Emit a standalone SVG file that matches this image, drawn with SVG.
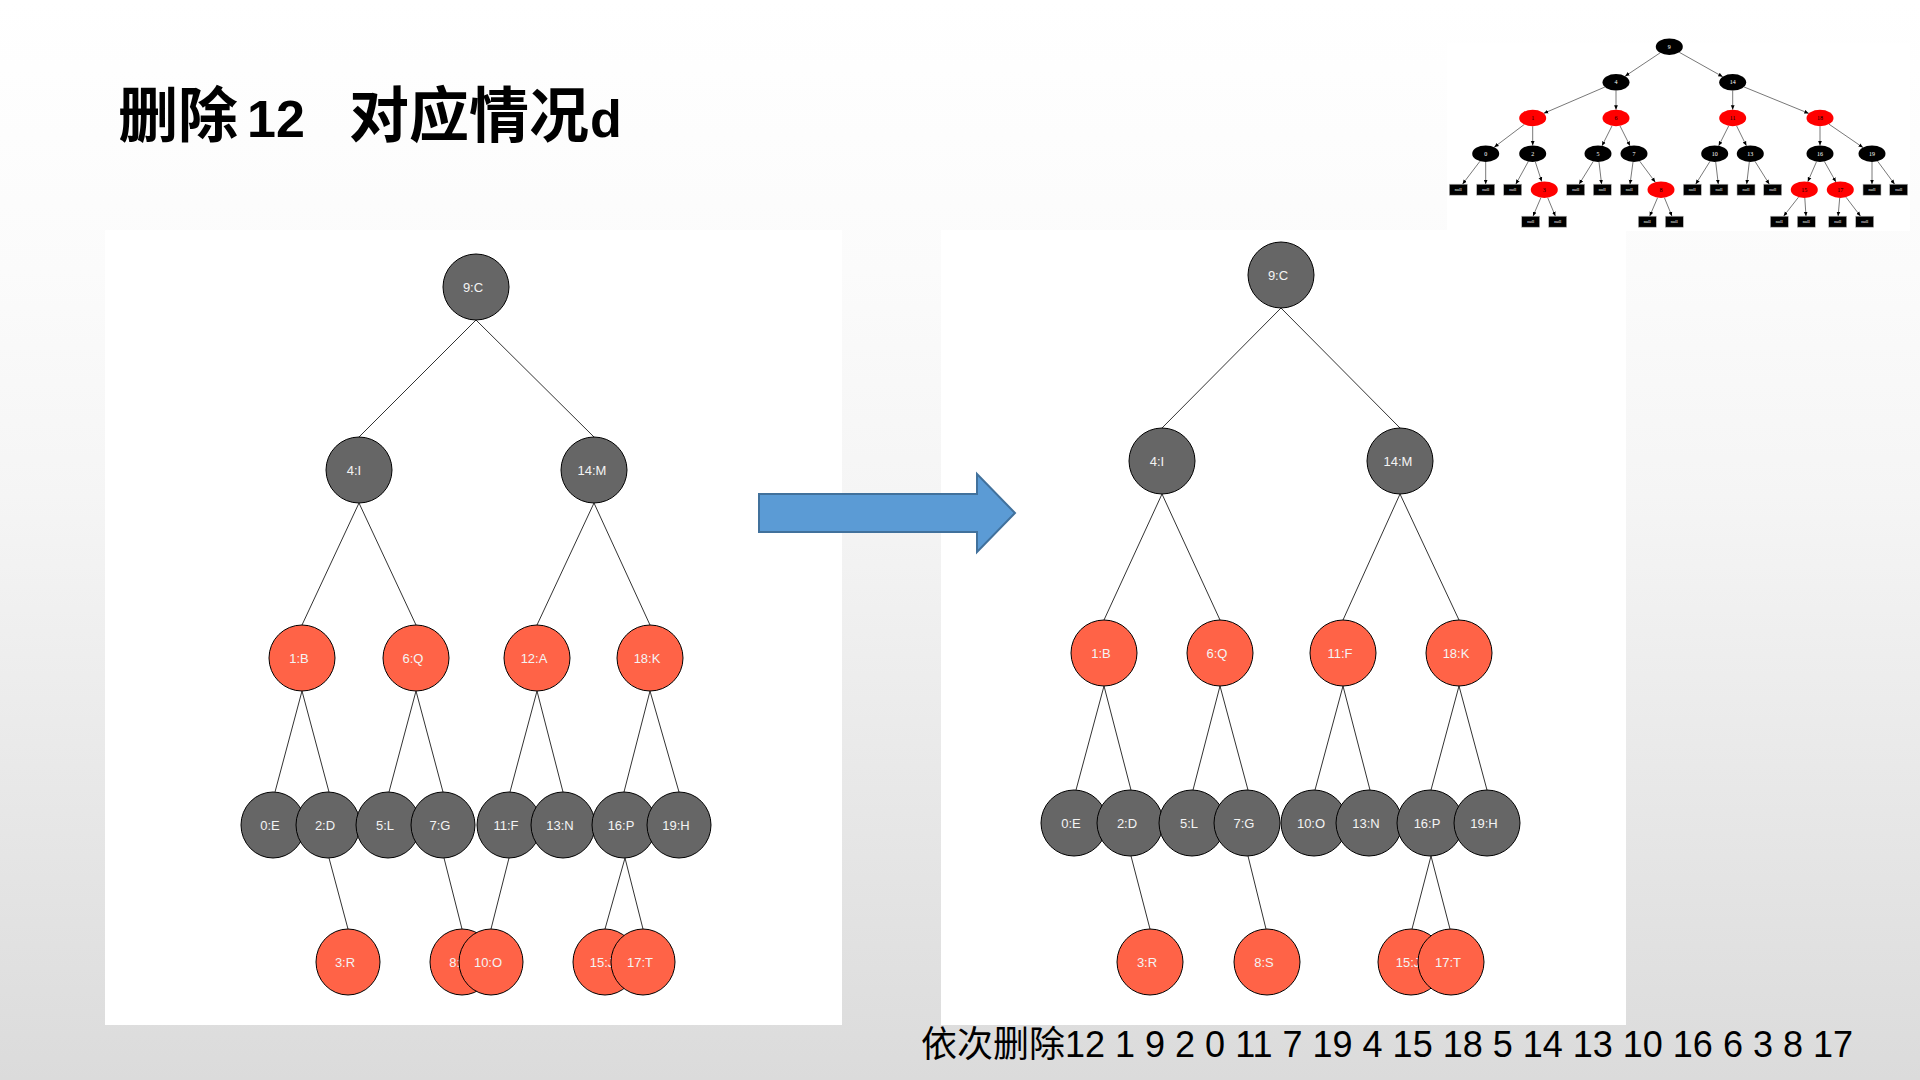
<svg xmlns="http://www.w3.org/2000/svg" width="1920" height="1080" viewBox="0 0 1920 1080">
<defs>
<linearGradient id="bg" x1="0" y1="0" x2="0" y2="1">
<stop offset="0" stop-color="#ffffff"/>
<stop offset="0.25" stop-color="#fbfbfb"/>
<stop offset="0.46" stop-color="#f5f5f5"/>
<stop offset="1" stop-color="#dbdbdb"/>
</linearGradient>
<marker id="ah" markerWidth="5" markerHeight="5" refX="4.5" refY="2.5" orient="auto" markerUnits="userSpaceOnUse">
<path d="M0,0.6 L4.5,2.5 L0,4.4 Z" fill="#000"/>
</marker>
<style>
.bgt{font-family:"Liberation Sans","Noto Sans CJK SC",sans-serif}
.ttl{font-family:"Noto Sans CJK SC","Liberation Sans",sans-serif;font-weight:bold;font-size:60px;fill:#000}
.lat{font-family:"Liberation Sans",sans-serif;font-weight:bold;font-size:52px}
.e{stroke:#333;stroke-width:1;fill:none}
.g{fill:#666666;stroke:#000;stroke-width:1}
.r{fill:#FF6347;stroke:#000;stroke-width:1}
.t{font-family:"Liberation Sans",Arial,sans-serif;font-size:13px;fill:#f4f4f4;text-anchor:middle}
.te{stroke:#555;stroke-width:0.8;fill:none;marker-end:url(#ah)}
.tb{fill:#000}
.tr{fill:#ff0000}
.tn{fill:#000;stroke:#bbb;stroke-width:0.6}
.tw{font-family:"Liberation Serif",serif;font-size:6px;fill:#fff;text-anchor:middle}
.tk{font-family:"Liberation Serif",serif;font-size:6px;fill:#000;text-anchor:middle}
.tnl{font-family:"Liberation Serif",serif;font-size:4.5px;fill:#fff;text-anchor:middle}
</style>
</defs>
<rect x="0" y="0" width="1920" height="1080" fill="url(#bg)"/>

<text class="ttl" y="137" xml:space="preserve"><tspan x="118">删除</tspan><tspan class="lat" x="247">12  </tspan><tspan x="349">对应情况</tspan><tspan class="lat" x="590">d</tspan></text>

<rect id="left-panel" x="105" y="230" width="737" height="795" fill="#fff"/>
<rect id="right-panel" x="941" y="230" width="685" height="795" fill="#fff"/>

<!-- Left tree -->
<g id="left-edges">
<line class="e" x1="476" y1="320" x2="359" y2="437"/>
<line class="e" x1="476" y1="320" x2="594" y2="437"/>
<line class="e" x1="359" y1="503" x2="302" y2="625"/>
<line class="e" x1="359" y1="503" x2="416" y2="625"/>
<line class="e" x1="594" y1="503" x2="537" y2="625"/>
<line class="e" x1="594" y1="503" x2="650" y2="625"/>
<line class="e" x1="302" y1="691" x2="275" y2="792"/>
<line class="e" x1="302" y1="691" x2="329" y2="792"/>
<line class="e" x1="416" y1="691" x2="389" y2="792"/>
<line class="e" x1="416" y1="691" x2="443" y2="792"/>
<line class="e" x1="537" y1="691" x2="510" y2="792"/>
<line class="e" x1="537" y1="691" x2="563" y2="792"/>
<line class="e" x1="650" y1="691" x2="624" y2="792"/>
<line class="e" x1="650" y1="691" x2="679" y2="792"/>
<line class="e" x1="329" y1="858" x2="348" y2="929"/>
<line class="e" x1="444" y1="858" x2="462" y2="929"/>
<line class="e" x1="509" y1="858" x2="491" y2="929"/>
<line class="e" x1="625" y1="858" x2="605" y2="929"/>
<line class="e" x1="625" y1="858" x2="643" y2="929"/>
</g>
<g id="left-nodes">
<g id="L-9C"><ellipse class="g" cx="476" cy="287" rx="33" ry="33"/><text class="t" x="473" y="292">9:C</text></g>
<g id="L-4I"><ellipse class="g" cx="359" cy="470" rx="33" ry="33"/><text class="t" x="354" y="475">4:I</text></g>
<g id="L-14M"><ellipse class="g" cx="594" cy="470" rx="33" ry="33"/><text class="t" x="592" y="475">14:M</text></g>
<g id="L-1B"><ellipse class="r" cx="302" cy="658" rx="33" ry="33"/><text class="t" x="299" y="663">1:B</text></g>
<g id="L-6Q"><ellipse class="r" cx="416" cy="658" rx="33" ry="33"/><text class="t" x="413" y="663">6:Q</text></g>
<g id="L-12A"><ellipse class="r" cx="537" cy="658" rx="33" ry="33"/><text class="t" x="534" y="663">12:A</text></g>
<g id="L-18K"><ellipse class="r" cx="650" cy="658" rx="33" ry="33"/><text class="t" x="647" y="663">18:K</text></g>
<g id="L-0E"><ellipse class="g" cx="273" cy="825" rx="32" ry="33"/><text class="t" x="270" y="830">0:E</text></g>
<g id="L-2D"><ellipse class="g" cx="328" cy="825" rx="32" ry="33"/><text class="t" x="325" y="830">2:D</text></g>
<g id="L-5L"><ellipse class="g" cx="388" cy="825" rx="32" ry="33"/><text class="t" x="385" y="830">5:L</text></g>
<g id="L-7G"><ellipse class="g" cx="443" cy="825" rx="32" ry="33"/><text class="t" x="440" y="830">7:G</text></g>
<g id="L-11F"><ellipse class="g" cx="509" cy="825" rx="32" ry="33"/><text class="t" x="506" y="830">11:F</text></g>
<g id="L-13N"><ellipse class="g" cx="563" cy="825" rx="32" ry="33"/><text class="t" x="560" y="830">13:N</text></g>
<g id="L-16P"><ellipse class="g" cx="624" cy="825" rx="32" ry="33"/><text class="t" x="621" y="830">16:P</text></g>
<g id="L-19H"><ellipse class="g" cx="679" cy="825" rx="32" ry="33"/><text class="t" x="676" y="830">19:H</text></g>
<g id="L-3R"><ellipse class="r" cx="348" cy="962" rx="32" ry="33"/><text class="t" x="345" y="967">3:R</text></g>
<g id="L-8S"><ellipse class="r" cx="462" cy="962" rx="32" ry="33"/><text class="t" x="459" y="967">8:S</text></g>
<g id="L-10O"><ellipse class="r" cx="491" cy="962" rx="32" ry="33"/><text class="t" x="488" y="967">10:O</text></g>
<g id="L-15J"><ellipse class="r" cx="605" cy="962" rx="32" ry="33"/><text class="t" x="602" y="967">15:J</text></g>
<g id="L-17T"><ellipse class="r" cx="643" cy="962" rx="32" ry="33"/><text class="t" x="640" y="967">17:T</text></g>
</g>

<g id="arrow"><path d="M759,494 H977 V474 L1015,513 L977,552 V532 H759 Z" fill="#5B9BD5" stroke="#41719C" stroke-width="2"/></g>

<!-- Right tree -->
<g id="right-edges">
<line class="e" x1="1281" y1="308" x2="1162" y2="428"/>
<line class="e" x1="1281" y1="308" x2="1400" y2="428"/>
<line class="e" x1="1162" y1="494" x2="1104" y2="620"/>
<line class="e" x1="1162" y1="494" x2="1220" y2="620"/>
<line class="e" x1="1400" y1="494" x2="1343" y2="620"/>
<line class="e" x1="1400" y1="494" x2="1459" y2="620"/>
<line class="e" x1="1104" y1="686" x2="1076" y2="790"/>
<line class="e" x1="1104" y1="686" x2="1131" y2="790"/>
<line class="e" x1="1220" y1="686" x2="1193" y2="790"/>
<line class="e" x1="1220" y1="686" x2="1248" y2="790"/>
<line class="e" x1="1343" y1="686" x2="1315" y2="790"/>
<line class="e" x1="1343" y1="686" x2="1370" y2="790"/>
<line class="e" x1="1459" y1="686" x2="1431" y2="790"/>
<line class="e" x1="1459" y1="686" x2="1487" y2="790"/>
<line class="e" x1="1131" y1="856" x2="1150" y2="929"/>
<line class="e" x1="1248" y1="856" x2="1266" y2="929"/>
<line class="e" x1="1431" y1="856" x2="1412" y2="929"/>
<line class="e" x1="1431" y1="856" x2="1450" y2="929"/>
</g>
<g id="right-nodes">
<g id="R-9C"><ellipse class="g" cx="1281" cy="275" rx="33" ry="33"/><text class="t" x="1278" y="280">9:C</text></g>
<g id="R-4I"><ellipse class="g" cx="1162" cy="461" rx="33" ry="33"/><text class="t" x="1157" y="466">4:I</text></g>
<g id="R-14M"><ellipse class="g" cx="1400" cy="461" rx="33" ry="33"/><text class="t" x="1398" y="466">14:M</text></g>
<g id="R-1B"><ellipse class="r" cx="1104" cy="653" rx="33" ry="33"/><text class="t" x="1101" y="658">1:B</text></g>
<g id="R-6Q"><ellipse class="r" cx="1220" cy="653" rx="33" ry="33"/><text class="t" x="1217" y="658">6:Q</text></g>
<g id="R-11F"><ellipse class="r" cx="1343" cy="653" rx="33" ry="33"/><text class="t" x="1340" y="658">11:F</text></g>
<g id="R-18K"><ellipse class="r" cx="1459" cy="653" rx="33" ry="33"/><text class="t" x="1456" y="658">18:K</text></g>
<g id="R-0E"><ellipse class="g" cx="1074" cy="823" rx="33" ry="33"/><text class="t" x="1071" y="828">0:E</text></g>
<g id="R-2D"><ellipse class="g" cx="1130" cy="823" rx="33" ry="33"/><text class="t" x="1127" y="828">2:D</text></g>
<g id="R-5L"><ellipse class="g" cx="1192" cy="823" rx="33" ry="33"/><text class="t" x="1189" y="828">5:L</text></g>
<g id="R-7G"><ellipse class="g" cx="1247" cy="823" rx="33" ry="33"/><text class="t" x="1244" y="828">7:G</text></g>
<g id="R-10O"><ellipse class="g" cx="1314" cy="823" rx="33" ry="33"/><text class="t" x="1311" y="828">10:O</text></g>
<g id="R-13N"><ellipse class="g" cx="1369" cy="823" rx="33" ry="33"/><text class="t" x="1366" y="828">13:N</text></g>
<g id="R-16P"><ellipse class="g" cx="1430" cy="823" rx="33" ry="33"/><text class="t" x="1427" y="828">16:P</text></g>
<g id="R-19H"><ellipse class="g" cx="1487" cy="823" rx="33" ry="33"/><text class="t" x="1484" y="828">19:H</text></g>
<g id="R-3R"><ellipse class="r" cx="1150" cy="962" rx="33" ry="33"/><text class="t" x="1147" y="967">3:R</text></g>
<g id="R-8S"><ellipse class="r" cx="1267" cy="962" rx="33" ry="33"/><text class="t" x="1264" y="967">8:S</text></g>
<g id="R-15J"><ellipse class="r" cx="1411" cy="962" rx="33" ry="33"/><text class="t" x="1408" y="967">15:J</text></g>
<g id="R-17T"><ellipse class="r" cx="1451" cy="962" rx="33" ry="33"/><text class="t" x="1448" y="967">17:T</text></g>
</g>

<!-- Thumbnail -->
<g id="thumbnail">
<rect x="1447" y="43" width="463" height="188" fill="#fff"/>
<g id="thumb-edges">
<line class="te" x1="1660.2" y1="52.8" x2="1625.1" y2="76.2"/>
<line class="te" x1="1679.3" y1="52.3" x2="1722.7" y2="76.7"/>
<line class="te" x1="1604.9" y1="87" x2="1543.8" y2="113.3"/>
<line class="te" x1="1616" y1="90.6" x2="1616" y2="109.7"/>
<line class="te" x1="1732.7" y1="90.6" x2="1732.7" y2="109.7"/>
<line class="te" x1="1743.9" y1="86.9" x2="1808.8" y2="113.4"/>
<line class="te" x1="1524.2" y1="124.5" x2="1494.2" y2="147.2"/>
<line class="te" x1="1532.7" y1="126.3" x2="1532.7" y2="145.4"/>
<line class="te" x1="1612" y1="125.9" x2="1602" y2="145.8"/>
<line class="te" x1="1620" y1="125.9" x2="1630" y2="145.8"/>
<line class="te" x1="1728.7" y1="125.9" x2="1718.7" y2="145.8"/>
<line class="te" x1="1736.6" y1="125.9" x2="1746.4" y2="145.8"/>
<line class="te" x1="1820" y1="126.3" x2="1820" y2="145.4"/>
<line class="te" x1="1829" y1="124.2" x2="1863" y2="147.5"/>
<line class="te" x1="1480" y1="161.2" x2="1462.5" y2="184.2"/>
<line class="te" x1="1485.7" y1="162" x2="1485.7" y2="184.2"/>
<line class="te" x1="1528.3" y1="161.5" x2="1515.8" y2="184.2"/>
<line class="te" x1="1535.3" y1="161.8" x2="1541.7" y2="181.6"/>
<line class="te" x1="1593.2" y1="161.5" x2="1579.1" y2="184.2"/>
<line class="te" x1="1599" y1="162" x2="1601.6" y2="184.2"/>
<line class="te" x1="1633" y1="162" x2="1630" y2="184.2"/>
<line class="te" x1="1639.7" y1="161.2" x2="1655.3" y2="182.2"/>
<line class="te" x1="1709.9" y1="161.5" x2="1695.7" y2="184.2"/>
<line class="te" x1="1715.7" y1="162" x2="1718.3" y2="184.2"/>
<line class="te" x1="1749.3" y1="162" x2="1746.7" y2="184.2"/>
<line class="te" x1="1755.1" y1="161.5" x2="1769.3" y2="184.2"/>
<line class="te" x1="1816.5" y1="161.7" x2="1807.8" y2="181.7"/>
<line class="te" x1="1824.4" y1="161.5" x2="1835.9" y2="181.9"/>
<line class="te" x1="1872" y1="162" x2="1872" y2="184.2"/>
<line class="te" x1="1877.6" y1="161.2" x2="1894.6" y2="184.2"/>
<line class="te" x1="1540.9" y1="197.7" x2="1533" y2="216.2"/>
<line class="te" x1="1547.7" y1="197.7" x2="1555.4" y2="216.2"/>
<line class="te" x1="1657.6" y1="197.7" x2="1649.7" y2="216.2"/>
<line class="te" x1="1664.4" y1="197.7" x2="1672" y2="216.2"/>
<line class="te" x1="1798.5" y1="197.2" x2="1783.6" y2="216.2"/>
<line class="te" x1="1804.8" y1="198" x2="1806" y2="216.2"/>
<line class="te" x1="1839.7" y1="198" x2="1838.1" y2="216.2"/>
<line class="te" x1="1846" y1="197.2" x2="1860.5" y2="216.2"/>
</g>
<g id="thumb-nodes">
<g id="T-9"><ellipse class="tb" cx="1669.3" cy="46.7" rx="13.5" ry="8.3"/><text class="tw" x="1669.3" y="48.8">9</text></g>
<g id="T-4"><ellipse class="tb" cx="1616" cy="82.3" rx="13.5" ry="8.3"/><text class="tw" x="1616" y="84.4">4</text></g>
<g id="T-14"><ellipse class="tb" cx="1732.7" cy="82.3" rx="13.5" ry="8.3"/><text class="tw" x="1732.7" y="84.4">14</text></g>
<g id="T-1"><ellipse class="tr" cx="1532.7" cy="118" rx="13.5" ry="8.3"/><text class="tk" x="1532.7" y="120.1">1</text></g>
<g id="T-6"><ellipse class="tr" cx="1616" cy="118" rx="13.5" ry="8.3"/><text class="tk" x="1616" y="120.1">6</text></g>
<g id="T-11"><ellipse class="tr" cx="1732.7" cy="118" rx="13.5" ry="8.3"/><text class="tk" x="1732.7" y="120.1">11</text></g>
<g id="T-18"><ellipse class="tr" cx="1820" cy="118" rx="13.5" ry="8.3"/><text class="tk" x="1820" y="120.1">18</text></g>
<g id="T-0"><ellipse class="tb" cx="1485.7" cy="153.7" rx="13.5" ry="8.3"/><text class="tw" x="1485.7" y="155.8">0</text></g>
<g id="T-2"><ellipse class="tb" cx="1532.7" cy="153.7" rx="13.5" ry="8.3"/><text class="tw" x="1532.7" y="155.8">2</text></g>
<g id="T-5"><ellipse class="tb" cx="1598" cy="153.7" rx="13.5" ry="8.3"/><text class="tw" x="1598" y="155.8">5</text></g>
<g id="T-7"><ellipse class="tb" cx="1634" cy="153.7" rx="13.5" ry="8.3"/><text class="tw" x="1634" y="155.8">7</text></g>
<g id="T-10"><ellipse class="tb" cx="1714.7" cy="153.7" rx="13.5" ry="8.3"/><text class="tw" x="1714.7" y="155.8">10</text></g>
<g id="T-13"><ellipse class="tb" cx="1750.3" cy="153.7" rx="13.5" ry="8.3"/><text class="tw" x="1750.3" y="155.8">13</text></g>
<g id="T-16"><ellipse class="tb" cx="1820" cy="153.7" rx="13.5" ry="8.3"/><text class="tw" x="1820" y="155.8">16</text></g>
<g id="T-19"><ellipse class="tb" cx="1872" cy="153.7" rx="13.5" ry="8.3"/><text class="tw" x="1872" y="155.8">19</text></g>
<g id="T-3"><ellipse class="tr" cx="1544.3" cy="189.7" rx="13.5" ry="8.3"/><text class="tk" x="1544.3" y="191.8">3</text></g>
<g id="T-8"><ellipse class="tr" cx="1661" cy="189.7" rx="13.5" ry="8.3"/><text class="tk" x="1661" y="191.8">8</text></g>
<g id="T-15"><ellipse class="tr" cx="1804.3" cy="189.7" rx="13.5" ry="8.3"/><text class="tk" x="1804.3" y="191.8">15</text></g>
<g id="T-17"><ellipse class="tr" cx="1840.3" cy="189.7" rx="13.5" ry="8.3"/><text class="tk" x="1840.3" y="191.8">17</text></g>
<g id="T-n1"><rect class="tn" x="1449.3" y="184.2" width="18" height="11"/><text class="tnl" x="1458.3" y="191.3">null</text></g>
<g id="T-n2"><rect class="tn" x="1476.7" y="184.2" width="18" height="11"/><text class="tnl" x="1485.7" y="191.3">null</text></g>
<g id="T-n3"><rect class="tn" x="1503.7" y="184.2" width="18" height="11"/><text class="tnl" x="1512.7" y="191.3">null</text></g>
<g id="T-n4"><rect class="tn" x="1566.7" y="184.2" width="18" height="11"/><text class="tnl" x="1575.7" y="191.3">null</text></g>
<g id="T-n5"><rect class="tn" x="1593.3" y="184.2" width="18" height="11"/><text class="tnl" x="1602.3" y="191.3">null</text></g>
<g id="T-n6"><rect class="tn" x="1620.3" y="184.2" width="18" height="11"/><text class="tnl" x="1629.3" y="191.3">null</text></g>
<g id="T-n7"><rect class="tn" x="1683.3" y="184.2" width="18" height="11"/><text class="tnl" x="1692.3" y="191.3">null</text></g>
<g id="T-n8"><rect class="tn" x="1710" y="184.2" width="18" height="11"/><text class="tnl" x="1719" y="191.3">null</text></g>
<g id="T-n9"><rect class="tn" x="1737" y="184.2" width="18" height="11"/><text class="tnl" x="1746" y="191.3">null</text></g>
<g id="T-n10"><rect class="tn" x="1763.7" y="184.2" width="18" height="11"/><text class="tnl" x="1772.7" y="191.3">null</text></g>
<g id="T-n11"><rect class="tn" x="1863" y="184.2" width="18" height="11"/><text class="tnl" x="1872" y="191.3">null</text></g>
<g id="T-n12"><rect class="tn" x="1889.7" y="184.2" width="18" height="11"/><text class="tnl" x="1898.7" y="191.3">null</text></g>
<g id="T-n13"><rect class="tn" x="1521.7" y="216.2" width="18" height="11"/><text class="tnl" x="1530.7" y="223.3">null</text></g>
<g id="T-n14"><rect class="tn" x="1548.7" y="216.2" width="18" height="11"/><text class="tnl" x="1557.7" y="223.3">null</text></g>
<g id="T-n15"><rect class="tn" x="1638.3" y="216.2" width="18" height="11"/><text class="tnl" x="1647.3" y="223.3">null</text></g>
<g id="T-n16"><rect class="tn" x="1665.3" y="216.2" width="18" height="11"/><text class="tnl" x="1674.3" y="223.3">null</text></g>
<g id="T-n17"><rect class="tn" x="1770.3" y="216.2" width="18" height="11"/><text class="tnl" x="1779.3" y="223.3">null</text></g>
<g id="T-n18"><rect class="tn" x="1797.3" y="216.2" width="18" height="11"/><text class="tnl" x="1806.3" y="223.3">null</text></g>
<g id="T-n19"><rect class="tn" x="1828.7" y="216.2" width="18" height="11"/><text class="tnl" x="1837.7" y="223.3">null</text></g>
<g id="T-n20"><rect class="tn" x="1855.7" y="216.2" width="18" height="11"/><text class="tnl" x="1864.7" y="223.3">null</text></g>
</g>
</g>

<text class="bgt" x="921" y="1057" font-size="36" fill="#000">依次删除12 1 9 2 0 11 7 19 4 15 18 5 14 13 10 16 6 3 8 17</text>
</svg>
